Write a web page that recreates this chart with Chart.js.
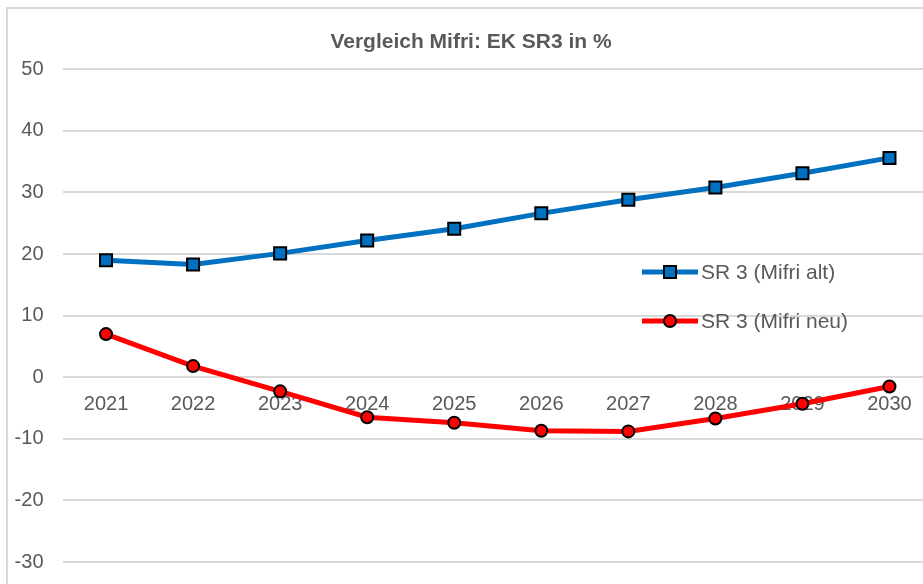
<!DOCTYPE html>
<html>
<head>
<meta charset="utf-8">
<script src="https://cdn.jsdelivr.net/npm/chart.js@4"></script>
<style>
  html, body { margin: 0; padding: 0; background: #fff; overflow: hidden; }
  #frame { position: absolute; left: 6px; top: 7px; width: 915px; height: 575px;
           border-left: 2px solid #d9d9d9; border-top: 2px solid #d9d9d9; }
  /* plot area of the original runs past the right edge of the crop */
  #wrap { position: absolute; left: 0; top: 0; width: 933px; height: 584px; }
</style>
</head>
<body>
<div id="frame"></div>
<div id="wrap"><canvas id="chart"></canvas></div>
<script>
const years = ['2021', '2022', '2023', '2024', '2025', '2026', '2027', '2028', '2029', '2030'];
const mifriAlt = [19.0, 18.3, 20.1, 22.2, 24.1, 26.6, 28.8, 30.8, 33.1, 35.6];
const mifriNeu = [7.0, 1.8, -2.3, -6.5, -7.4, -8.7, -8.8, -6.7, -4.3, -1.5];
const seriesLabels = ['SR 3 (Mifri alt)', 'SR 3 (Mifri neu)'];
const titleText = 'Vergleich Mifri: EK SR3 in %';

const gray = '#595959';
const gridColor = '#d9d9d9';
const fontFamily = '"Liberation Sans", Arial, sans-serif';

// legend drawn inside the plot area, to the right
const insideLegend = {
  id: 'insideLegend',
  afterDraw(chart) {
    const ctx = chart.ctx;
    const rows = [272, 321];
    chart.data.datasets.forEach((ds, i) => {
      const y = rows[i];
      ctx.save();
      ctx.strokeStyle = ds.borderColor;
      ctx.lineWidth = ds.borderWidth;
      ctx.beginPath();
      ctx.moveTo(642, y);
      ctx.lineTo(698, y);
      ctx.stroke();
      ctx.fillStyle = ds.pointBackgroundColor;
      ctx.strokeStyle = ds.pointBorderColor;
      ctx.lineWidth = ds.pointBorderWidth;
      Chart.helpers.drawPoint(ctx, {
        pointStyle: ds.pointStyle,
        radius: ds.pointRadius,
        borderWidth: ds.pointBorderWidth,
      }, 670, y);
      ctx.fillStyle = gray;
      ctx.font = '21px ' + fontFamily;
      ctx.textBaseline = 'middle';
      ctx.fillText(ds.label, 701, y + 1);
      ctx.restore();
    });
  }
};

new Chart(document.getElementById('chart'), {
  type: 'line',
  data: {
    labels: years,
    datasets: [
      {
        label: seriesLabels[0],
        data: mifriAlt,
        borderColor: '#0070c0',
        borderWidth: 5,
        pointStyle: 'rect',
        pointRadius: 8.5,
        pointBackgroundColor: '#0070c0',
        pointBorderColor: '#000',
        pointBorderWidth: 2,
        tension: 0,
      },
      {
        label: seriesLabels[1],
        data: mifriNeu,
        borderColor: '#ff0000',
        borderWidth: 5,
        pointStyle: 'circle',
        pointRadius: 6,
        pointBackgroundColor: '#ff0000',
        pointBorderColor: '#000',
        pointBorderWidth: 2,
        tension: 0,
      },
    ],
  },
  options: {
    responsive: true,
    maintainAspectRatio: false,
    animation: false,
    layout: {
      autoPadding: false,
      padding: { left: 9, right: 0, top: 0, bottom: 22 },
    },
    scales: {
      x: {
        position: { y: 0 },
        offset: true,
        grid: { display: false, drawTicks: false },
        border: { display: false },
        ticks: {
          color: gray,
          padding: 15,
          maxRotation: 0,
          font: { family: fontFamily, size: 20 },
        },
        afterFit(scale) {
          scale.paddingLeft = scale.paddingRight = 0;
          scale.paddingTop = scale.paddingBottom = 0;
        },
      },
      y: {
        min: -30,
        max: 50,
        grid: { color: gridColor, lineWidth: 2, drawTicks: false },
        border: { display: false },
        ticks: {
          stepSize: 10,
          color: gray,
          padding: 19,
          font: { family: fontFamily, size: 20 },
          callback: value => String(value),
        },
        afterFit(scale) {
          scale.width = 53.5;
          scale.paddingTop = scale.paddingBottom = 0;
        },
      },
    },
    plugins: {
      legend: { display: false },
      tooltip: { enabled: false },
      title: {
        display: true,
        text: titleText,
        color: gray,
        font: { family: fontFamily, size: 21, weight: 'bold' },
        padding: { top: 30, bottom: 14 },
      },
    },
  },
  plugins: [insideLegend],
});
</script>
</body>
</html>
